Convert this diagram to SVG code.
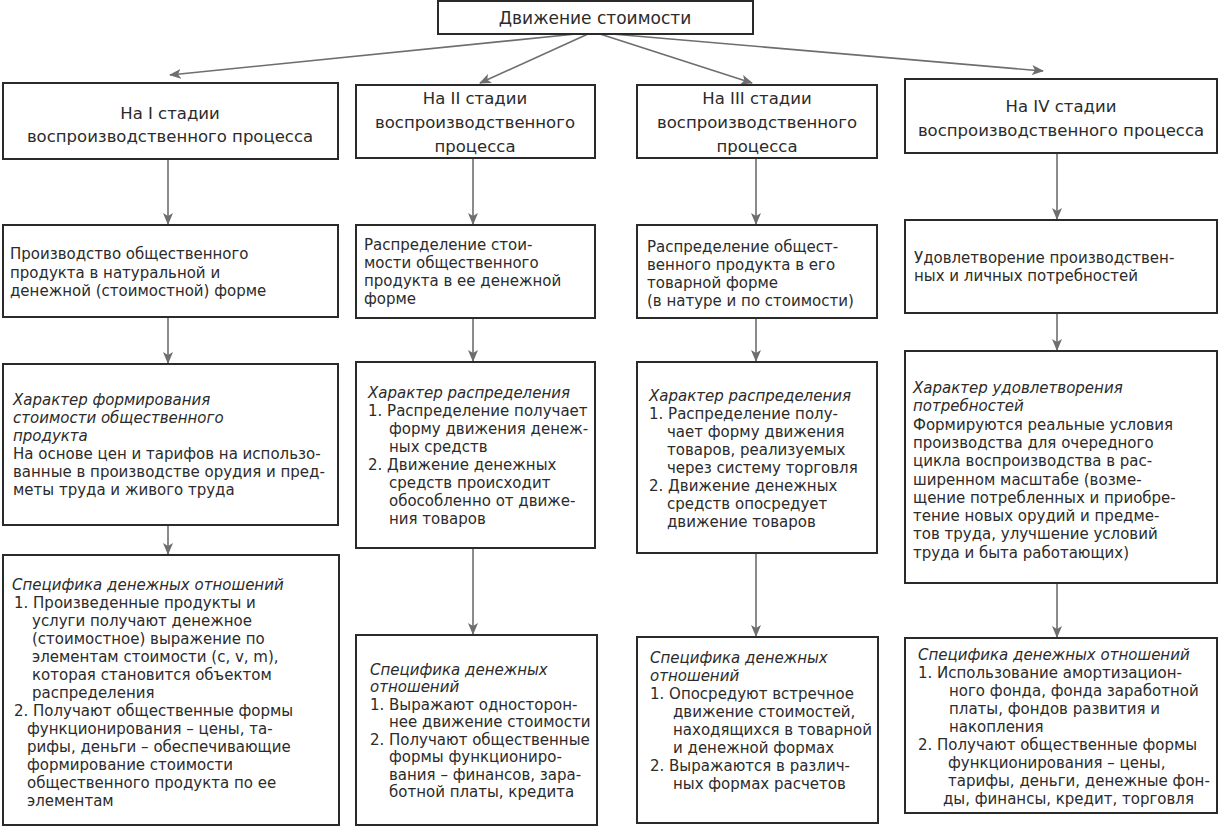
<svg xmlns="http://www.w3.org/2000/svg" width="1221" height="831" viewBox="0 0 1221 831">
<style>
.box{fill:#fff;stroke:#2a2a2a;stroke-width:2}
.t{font-family:"DejaVu Sans","Open Sans",sans-serif;font-size:15px;fill:#2b2b2b}
.h{font-family:"DejaVu Sans","Open Sans",sans-serif;font-size:16.5px;fill:#2b2b2b;text-anchor:middle}
.i{font-style:italic}
.c{stroke:#6e6e6e;stroke-width:1.6;fill:none;marker-end:url(#ah)}
</style>
<defs>
<marker id="ah" viewBox="0 0 12 10" refX="11" refY="5" markerWidth="12" markerHeight="10" markerUnits="userSpaceOnUse" orient="auto">
<path d="M0,0 L12,5 L0,10 L3,5 z" fill="#6e6e6e"/>
</marker>
</defs>
<rect width="1221" height="831" fill="#fff"/>

<g id="connectors">
<line class="c" x1="576" y1="34" x2="170" y2="75"/>
<line class="c" x1="588" y1="34" x2="480" y2="83"/>
<line class="c" x1="600" y1="34" x2="752" y2="83"/>
<line class="c" x1="612" y1="34" x2="1043" y2="71"/>
<line class="c" x1="168" y1="159" x2="168" y2="224"/>
<line class="c" x1="168" y1="317" x2="168" y2="363"/>
<line class="c" x1="168" y1="525" x2="168" y2="554"/>
<line class="c" x1="473" y1="158" x2="473" y2="224"/>
<line class="c" x1="473" y1="318" x2="473" y2="361"/>
<line class="c" x1="473" y1="548" x2="473" y2="634"/>
<line class="c" x1="756" y1="158" x2="756" y2="224"/>
<line class="c" x1="756" y1="318" x2="756" y2="361"/>
<line class="c" x1="756" y1="553" x2="756" y2="636"/>
<line class="c" x1="1057" y1="153" x2="1057" y2="219"/>
<line class="c" x1="1057" y1="313" x2="1057" y2="350"/>
<line class="c" x1="1057" y1="583" x2="1057" y2="637"/>
</g>

<g id="top">
<rect class="box" x="438" y="1" width="315" height="33"/>
<text class="h" x="595" y="24" style="font-size:17px">Движение стоимости</text>
</g>

<g id="s1">
<rect class="box" x="3" y="83" width="335" height="76"/>
<text class="h" x="170" y="119">На I стадии</text>
<text class="h" x="170" y="142">воспроизводственного процесса</text>
</g>
<g id="s2">
<rect class="box" x="356" y="85" width="239" height="73"/>
<text class="h" x="475" y="104">На II стадии</text>
<text class="h" x="475" y="128">воспроизводственного</text>
<text class="h" x="475" y="152">процесса</text>
</g>
<g id="s3">
<rect class="box" x="637" y="85" width="240" height="73"/>
<text class="h" x="757" y="104">На III стадии</text>
<text class="h" x="757" y="128">воспроизводственного</text>
<text class="h" x="757" y="152">процесса</text>
</g>
<g id="s4">
<rect class="box" x="905" y="79" width="312" height="74"/>
<text class="h" x="1061" y="112">На IV стадии</text>
<text class="h" x="1061" y="136">воспроизводственного процесса</text>
</g>

<g id="p1">
<rect class="box" x="3" y="225" width="335" height="92"/>
<text class="t" x="10" y="259">Производство общественного</text>
<text class="t" x="10" y="277.5">продукта в натуральной и</text>
<text class="t" x="10" y="296">денежной (стоимостной) форме</text>
</g>
<g id="p2">
<rect class="box" x="356" y="225" width="239" height="93"/>
<text class="t" x="364" y="250">Распределение стои-</text>
<text class="t" x="364" y="268">мости общественного</text>
<text class="t" x="364" y="286">продукта в ее денежной</text>
<text class="t" x="364" y="304">форме</text>
</g>
<g id="p3">
<rect class="box" x="637" y="225" width="240" height="93"/>
<text class="t" x="647" y="252">Распределение общест-</text>
<text class="t" x="647" y="270">венного продукта в его</text>
<text class="t" x="647" y="288">товарной форме</text>
<text class="t" x="647" y="306">(в натуре и по стоимости)</text>
</g>
<g id="p4">
<rect class="box" x="905" y="220" width="312" height="93"/>
<text class="t" x="914" y="263">Удовлетворение производствен-</text>
<text class="t" x="914" y="281">ных и личных потребностей</text>
</g>

<g id="c1">
<rect class="box" x="3" y="364" width="335" height="161"/>
<text class="t i" x="13" y="405">Характер формирования</text>
<text class="t i" x="13" y="423">стоимости общественного</text>
<text class="t i" x="13" y="441">продукта</text>
<text class="t" x="13" y="459">На основе цен и тарифов на использо-</text>
<text class="t" x="13" y="477">ванные в производстве орудия и пред-</text>
<text class="t" x="13" y="495">меты труда и живого труда</text>
</g>
<g id="c2">
<rect class="box" x="356" y="362" width="239" height="186"/>
<text class="t i" x="368" y="398">Характер распределения</text>
<text class="t" x="368" y="416">1. Распределение получает</text>
<text class="t" x="389" y="434">форму движения денеж-</text>
<text class="t" x="389" y="452">ных средств</text>
<text class="t" x="368" y="470">2. Движение денежных</text>
<text class="t" x="389" y="488">средств происходит</text>
<text class="t" x="389" y="506">обособленно от движе-</text>
<text class="t" x="389" y="524">ния товаров</text>
</g>
<g id="c3">
<rect class="box" x="637" y="362" width="240" height="191"/>
<text class="t i" x="649" y="401">Характер распределения</text>
<text class="t" x="649" y="419">1. Распределение полу-</text>
<text class="t" x="667" y="437">чает форму движения</text>
<text class="t" x="667" y="455">товаров, реализуемых</text>
<text class="t" x="667" y="473">через систему торговля</text>
<text class="t" x="649" y="491">2. Движение денежных</text>
<text class="t" x="667" y="509">средств опосредует</text>
<text class="t" x="667" y="527">движение товаров</text>
</g>
<g id="c4">
<rect class="box" x="905" y="351" width="312" height="232"/>
<text class="t i" x="913" y="393">Характер удовлетворения</text>
<text class="t i" x="913" y="411">потребностей</text>
<text class="t" x="913" y="430">Формируются реальные условия</text>
<text class="t" x="913" y="448">производства для очередного</text>
<text class="t" x="913" y="466">цикла воспроизводства в рас-</text>
<text class="t" x="913" y="485">ширенном масштабе (возме-</text>
<text class="t" x="913" y="503">щение потребленных и приобре-</text>
<text class="t" x="913" y="521">тение новых орудий и предме-</text>
<text class="t" x="913" y="539">тов труда, улучшение условий</text>
<text class="t" x="913" y="558">труда и быта работающих)</text>
</g>

<g id="m1">
<rect class="box" x="3" y="555" width="336" height="270"/>
<text class="t i" x="12" y="590">Специфика денежных отношений</text>
<text class="t" x="14" y="608">1. Произведенные продукты и</text>
<text class="t" x="32" y="626">услуги получают денежное</text>
<text class="t" x="32" y="644">(стоимостное) выражение по</text>
<text class="t" x="32" y="662">элементам стоимости (с, v, m),</text>
<text class="t" x="32" y="680">которая становится объектом</text>
<text class="t" x="32" y="698">распределения</text>
<text class="t" x="14" y="716">2. Получают общественные формы</text>
<text class="t" x="27" y="734">функционирования – цены, та-</text>
<text class="t" x="27" y="752">рифы, деньги – обеспечивающие</text>
<text class="t" x="27" y="770">формирование стоимости</text>
<text class="t" x="27" y="788">общественного продукта по ее</text>
<text class="t" x="27" y="806">элементам</text>
</g>
<g id="m2">
<rect class="box" x="356" y="635" width="241" height="190"/>
<text class="t i" x="370" y="675">Специфика денежных</text>
<text class="t i" x="370" y="692">отношений</text>
<text class="t" x="370" y="710">1. Выражают односторон-</text>
<text class="t" x="389" y="727">нее движение стоимости</text>
<text class="t" x="370" y="745">2. Получают общественные</text>
<text class="t" x="389" y="762">формы функциониро-</text>
<text class="t" x="389" y="780">вания – финансов, зара-</text>
<text class="t" x="389" y="797">ботной платы, кредита</text>
</g>
<g id="m3">
<rect class="box" x="637" y="637" width="241" height="186"/>
<text class="t i" x="650" y="663">Специфика денежных</text>
<text class="t i" x="650" y="681">отношений</text>
<text class="t" x="650" y="699">1. Опосредуют встречное</text>
<text class="t" x="673" y="717">движение стоимостей,</text>
<text class="t" x="673" y="735">находящихся в товарной</text>
<text class="t" x="673" y="753">и денежной формах</text>
<text class="t" x="650" y="771">2. Выражаются в различ-</text>
<text class="t" x="673" y="789">ных формах расчетов</text>
</g>
<g id="m4">
<rect class="box" x="905" y="638" width="312" height="175"/>
<text class="t i" x="918" y="660">Специфика денежных отношений</text>
<text class="t" x="918" y="678">1. Использование амортизацион-</text>
<text class="t" x="949" y="696">ного фонда, фонда заработной</text>
<text class="t" x="949" y="714">платы, фондов развития и</text>
<text class="t" x="949" y="732">накопления</text>
<text class="t" x="918" y="750">2. Получают общественные формы</text>
<text class="t" x="948" y="768">функционирования – цены,</text>
<text class="t" x="948" y="786">тарифы, деньги,  денежные фон-</text>
<text class="t" x="943" y="804">ды, финансы, кредит, торговля</text>
</g>
</svg>
